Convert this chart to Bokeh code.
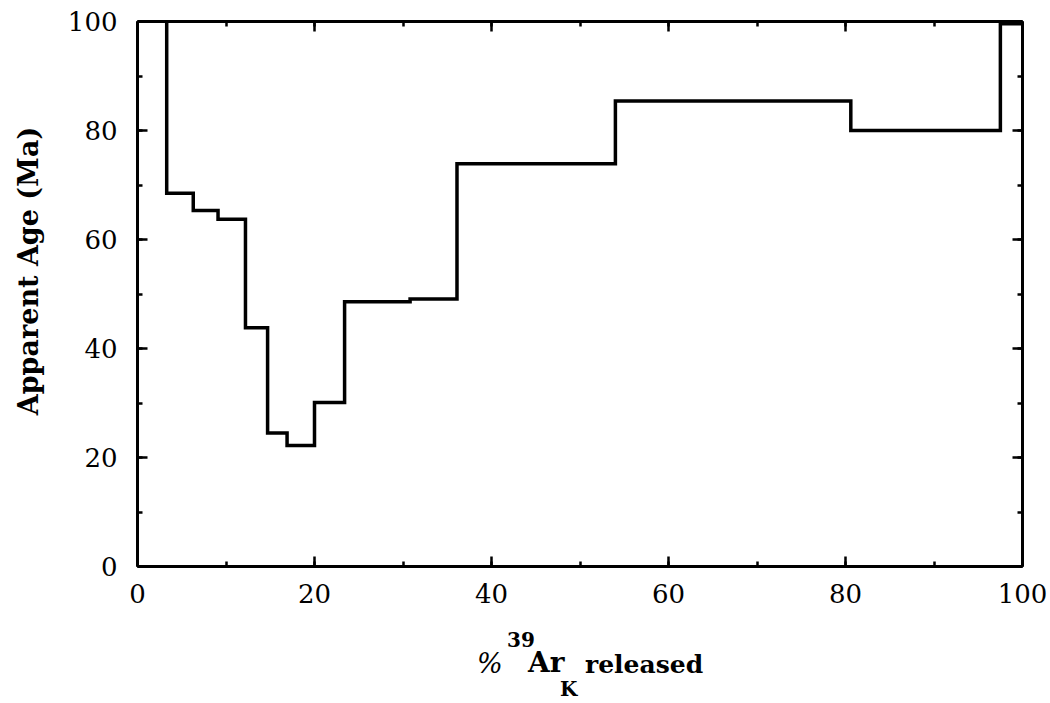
from bokeh.plotting import figure
from bokeh.models import LinearAxis, Range1d, SingleIntervalTicker, Div
from bokeh.layouts import column, row
from bokeh.embed import file_html
from bokeh.resources import INLINE

# Cumulative % 39Ar_K released (step edges) and apparent age (Ma) for each step
cum_release = [0, 3.3, 6.3, 9.1, 12.2, 14.7, 16.9, 20.0, 23.4, 30.8, 36.1, 54.0, 80.6, 97.5, 100.0]
ages = [150.0, 68.5, 65.3, 63.7, 43.8, 24.5, 22.2, 30.1, 48.6, 49.1, 73.9, 85.4, 80.0, 99.6]

tick_values = [0, 20, 40, 60, 80, 100]
y_title = "Apparent Age (Ma)"

FONT = "DejaVu Serif"
LEFT_W = 60

p = figure(width=1050 - LEFT_W, height=625, output_backend="svg", toolbar_location=None,
           x_range=Range1d(0, 100), y_range=Range1d(0, 100),
           x_axis_location=None, y_axis_location=None)
p.min_border_left = 137 - LEFT_W
p.min_border_right = 28
p.min_border_top = 21
p.min_border_bottom = 59
p.grid.visible = False
p.outline_line_color = None
p.background_fill_color = "white"
p.border_fill_color = "white"
p.margin = 0


def style(ax, labels=True):
    ax.axis_line_width = 3
    ax.axis_line_color = "black"
    ax.major_tick_in = 10
    ax.major_tick_out = 0
    ax.minor_tick_in = 5
    ax.minor_tick_out = 0
    ax.major_tick_line_width = 2.5
    ax.minor_tick_line_width = 2.5
    ax.major_tick_line_color = "black"
    ax.minor_tick_line_color = "black"
    ax.major_label_text_font = FONT
    ax.major_label_text_color = "black"
    ax.major_label_text_font_size = "26px"
    if not labels:
        ax.major_label_overrides = {v: "" for v in tick_values}
        ax.major_label_standoff = 0


def mk_ticker():
    return SingleIntervalTicker(interval=20, num_minor_ticks=2)


bottom = LinearAxis(ticker=mk_ticker())
style(bottom)
bottom.major_label_standoff = 17
p.add_layout(bottom, "below")

left = LinearAxis(ticker=mk_ticker())
style(left)
left.major_label_standoff = 20
p.add_layout(left, "left")

top = LinearAxis(ticker=mk_ticker())
style(top, labels=False)
p.add_layout(top, "above")

right = LinearAxis(ticker=mk_ticker())
style(right, labels=False)
p.add_layout(right, "right")

# age spectrum as step line
p.step(x=cum_release, y=ages + [ages[-1]], mode="after",
       line_color="black", line_width=3.5, line_join="miter")

# y-axis title (rotated)
left_html = (
    f'<div style="position:relative;width:{LEFT_W}px;height:703px;">'
    '<span style="position:absolute;left:28px;top:271px;transform:translate(-50%,-50%) rotate(-90deg);'
    "white-space:nowrap;font-family:'DejaVu Serif';font-weight:bold;font-size:27px;line-height:1;color:black;\">"
    f'{y_title}</span></div>'
)
left_div = Div(text=left_html, width=LEFT_W, height=703, margin=0)

# x-axis title: % 39Ar_K released
f = "font-family:'DejaVu Serif';line-height:1;position:absolute;white-space:nowrap;color:black;"
html = (
    f'<div style="position:relative;width:{1050 - LEFT_W}px;height:78px;">'
    f'<span style="{f}left:417px;top:25px;font-size:27px;font-style:italic;">%</span>'
    f'<span style="{f}left:447px;top:5px;font-size:20px;font-weight:bold;">39</span>'
    f'<span style="{f}left:468px;top:24px;font-size:28px;font-weight:bold;">Ar</span>'
    f'<span style="{f}left:500px;top:54px;font-size:20px;font-weight:bold;">K</span>'
    f'<span style="{f}left:525px;top:27px;font-size:25px;font-weight:bold;">released</span>'
    '</div>'
)
title_div = Div(text=html, width=1050 - LEFT_W, height=78, margin=0)

layout = row(left_div, column(p, title_div, spacing=0, margin=0), spacing=0, margin=0)

open("out.html", "w").write(file_html(layout, INLINE))
